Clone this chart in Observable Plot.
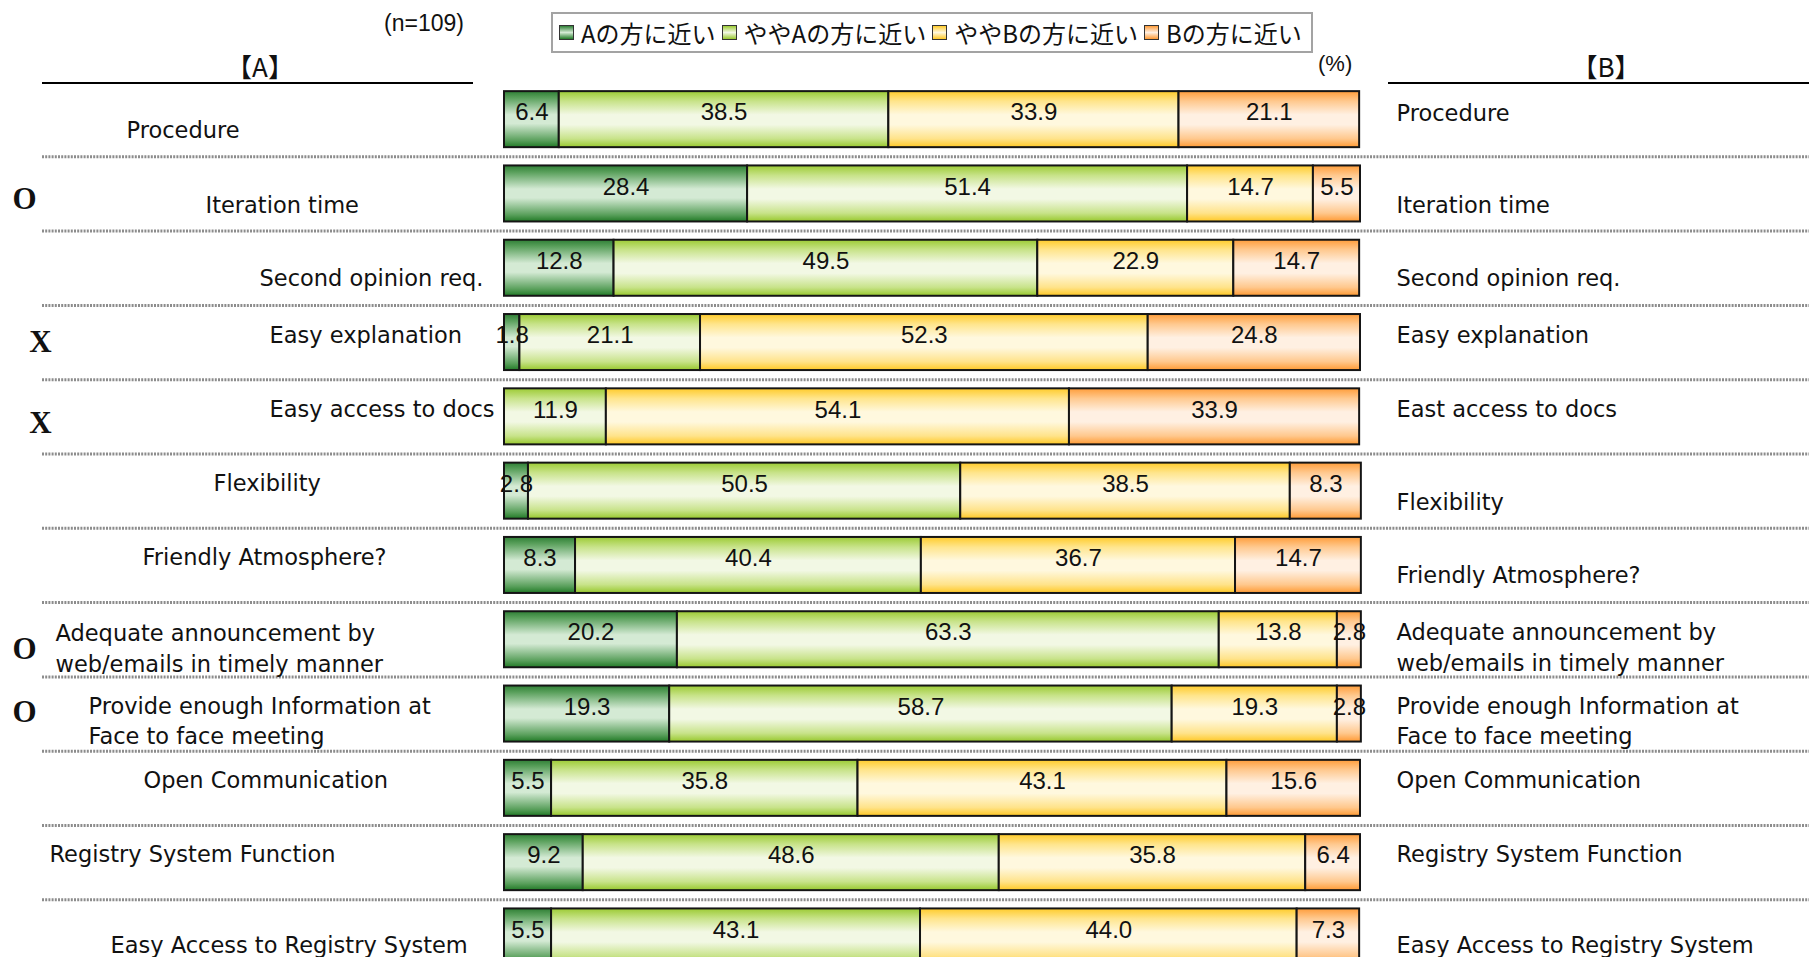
<!DOCTYPE html>
<html><head><meta charset="utf-8">
<script src="https://cdn.jsdelivr.net/npm/d3@7"></script>
<script src="https://cdn.jsdelivr.net/npm/@observablehq/plot@0.6"></script>
<style>
html,body{margin:0;padding:0;background:#fff;overflow:hidden;}
#wrap{position:relative;width:1809px;height:957px;overflow:hidden;}
#head{height:82px;}
.abs{position:absolute;white-space:nowrap;color:#111;}
.line{position:absolute;height:2px;background:#000;}
#legend{position:absolute;left:551px;top:12px;width:758px;height:37px;border:2px solid #a3a3a3;display:flex;align-items:center;box-sizing:content-box;font-family:"Noto Sans CJK JP";font-size:24px;color:#111;}
#legend .sw{width:13px;height:13px;border:1.5px solid #333;margin-right:7px;flex:none;}
#legend .it{display:flex;align-items:center;margin-left:6px;}
</style></head><body>
<svg width="0" height="0" style="position:absolute">
<defs>
<linearGradient id="g0" x1="0" y1="0" x2="0" y2="1">
<stop offset="0" stop-color="#2f7f35"/><stop offset="0.12" stop-color="#5aa05c"/><stop offset="0.42" stop-color="#d4ead4"/><stop offset="0.58" stop-color="#d4ead4"/><stop offset="0.88" stop-color="#5aa05c"/><stop offset="1" stop-color="#217a26"/>
</linearGradient>
<linearGradient id="g1" x1="0" y1="0" x2="0" y2="1">
<stop offset="0" stop-color="#9ccb34"/><stop offset="0.18" stop-color="#c8e38a"/><stop offset="0.42" stop-color="#f2f8e4"/><stop offset="0.6" stop-color="#f2f8e4"/><stop offset="0.85" stop-color="#c8e38a"/><stop offset="1" stop-color="#97c82c"/>
</linearGradient>
<linearGradient id="g2" x1="0" y1="0" x2="0" y2="1">
<stop offset="0" stop-color="#ffcb2a"/><stop offset="0.18" stop-color="#ffe58c"/><stop offset="0.42" stop-color="#fff8de"/><stop offset="0.6" stop-color="#fff8de"/><stop offset="0.85" stop-color="#ffe38a"/><stop offset="1" stop-color="#ffc824"/>
</linearGradient>
<linearGradient id="g3" x1="0" y1="0" x2="0" y2="1">
<stop offset="0" stop-color="#ff9d3a"/><stop offset="0.18" stop-color="#ffc98f"/><stop offset="0.42" stop-color="#fff0e2"/><stop offset="0.6" stop-color="#fff0e2"/><stop offset="0.85" stop-color="#ffc88d"/><stop offset="1" stop-color="#ff9a33"/>
</linearGradient>
</defs>
</svg>
<div id="wrap">
<div id="head"></div>
<div id="chart"></div>
<div class="abs" style="left:384px;top:9px;font-family:'Liberation Sans';font-size:23px;line-height:28px;">(n=109)</div>
<div id="legend"></div>
<div class="abs" style="left:1318px;top:51px;font-family:'Liberation Sans';font-size:22px;line-height:26px;">(%)</div>
<div class="abs" style="left:190px;width:140px;text-align:center;top:50px;font-family:'Noto Sans CJK JP';font-size:26px;line-height:32px;">【A】</div>
<div class="abs" style="left:1536px;width:140px;text-align:center;top:50px;font-family:'Noto Sans CJK JP';font-size:26px;line-height:32px;">【B】</div>
<div class="line" style="left:42px;top:82px;width:431px;"></div>
<div class="line" style="left:1388px;top:82px;width:421px;"></div>
</div>
<script>
// ---- data ----
const leftLabels = [
  "Procedure", "Iteration time", "Second opinion req.", "Easy explanation",
  "Easy access to docs", "Flexibility", "Friendly Atmosphere?",
  "Adequate announcement by\nweb/emails in timely manner",
  "Provide enough Information at\nFace to face meeting",
  "Open Communication", "Registry System Function", "Easy Access to Registry System"
];
const rightLabels = [
  "Procedure", "Iteration time", "Second opinion req.", "Easy explanation",
  "East access to docs", "Flexibility", "Friendly Atmosphere?",
  "Adequate announcement by\nweb/emails in timely manner",
  "Provide enough Information at\nFace to face meeting",
  "Open Communication", "Registry System Function", "Easy Access to Registry System"
];
const series = ["Aの方に近い", "ややAの方に近い", "ややBの方に近い", "Bの方に近い"];
const nearA   = [6.4, 28.4, 12.8, 1.8, 0, 2.8, 8.3, 20.2, 19.3, 5.5, 9.2, 5.5];
const slightA = [38.5, 51.4, 49.5, 21.1, 11.9, 50.5, 40.4, 63.3, 58.7, 35.8, 48.6, 43.1];
const slightB = [33.9, 14.7, 22.9, 52.3, 54.1, 38.5, 36.7, 13.8, 19.3, 43.1, 35.8, 44.0];
const nearB   = [21.1, 5.5, 14.7, 24.8, 33.9, 8.3, 14.7, 2.8, 2.8, 15.6, 6.4, 7.3];
const verdicts = ["", "O", "", "X", "X", "", "", "O", "O", "", "", ""];

// ---- layout (pixel offsets for free-placed labels) ----
const leftDx  = [84, 163, 217, 227, 227, 171, 100, 13, 46, 101, 7, 68];
const leftDy  = [9, 9, 8, -9, -10, -10, -10, 7, 5, -10, -10, 6];
const rightDy = [-8, 9, 8, -9, -10, 9, 8, 6, 5, -10, -10, 6];
const verdictDx = {O: -18, X: -2};
const verdictDy = [0, 5, 0, 0, 6, 0, 0, 9, -2, 0, 0, 0];

const values = [nearA, slightA, slightB, nearB];
const items = leftLabels;
const long = [];
series.forEach((s, j) => items.forEach((k, i) => long.push({item: k, series: s, value: values[j][i]})));
const fills = series.map((s, j) => `url(#g${j})`);

const yRange = [0, 891.6];
const step = (yRange[1] - yRange[0]) / items.length;
const labelFont = "'DejaVu Sans', 'Noto Sans', sans-serif";

const marks = [
  Plot.ruleY(items.slice(0, -1), {y: d => d, dy: step / 2, stroke: "#8c8c8c", strokeWidth: 3, strokeDasharray: "2,1.2"}),
  Plot.barX(long, {x: "value", y: "item", z: "series", fill: "series", order: series, stroke: "#151515", strokeWidth: 2}),
  Plot.text(long, Plot.stackX({x: "value", y: "item", z: "series", order: series,
    text: d => d.value > 0 ? d.value.toFixed(1) : null, dy: -7, fontSize: 24,
    fontFamily: "'Liberation Sans', Arial, sans-serif", fill: "#111"}))
];
items.forEach((k, i) => {
  marks.push(Plot.text([k], {y: d => d, text: [leftLabels[i]], frameAnchor: "left", textAnchor: "start",
    dx: leftDx[i], dy: leftDy[i], fontSize: 22.5, lineHeight: 1.35, fontFamily: labelFont, fill: "#111"}));
  marks.push(Plot.text([k], {y: d => d, text: [rightLabels[i]], frameAnchor: "left", textAnchor: "start",
    dx: 1354, dy: rightDy[i], fontSize: 22.5, lineHeight: 1.35, fontFamily: labelFont, fill: "#111"}));
  if (verdicts[i]) {
    marks.push(Plot.text([k], {y: d => d, text: [verdicts[i]], frameAnchor: "left", textAnchor: "middle",
      dx: verdictDx[verdicts[i]], dy: verdictDy[i], fontSize: 31, fontWeight: "bold",
      fontFamily: "'Liberation Serif', 'Times New Roman', serif", fill: "#111"}));
  }
});

const chart = Plot.plot({
  width: 1809, height: 875,
  marginLeft: 42, marginRight: 0, marginTop: 0, marginBottom: 0,
  x: {domain: [0, 100], range: [504, 1360], axis: null},
  y: {domain: items, range: yRange, paddingInner: 0.246, paddingOuter: 0.123, round: false, axis: null},
  color: {domain: series, range: fills},
  style: {background: "transparent", overflow: "hidden"},
  marks
});
document.getElementById("chart").appendChild(chart);

// legend
const leg = d3.select("#legend");
series.forEach((s, j) => {
  const it = leg.append("div").attr("class", "it");
  it.append("div").attr("class", "sw").style("background",
    ["linear-gradient(#2f7f35,#d4ead4,#217a26)", "linear-gradient(#9ccb34,#f2f8e4,#97c82c)",
     "linear-gradient(#ffcb2a,#fff8de,#ffc824)", "linear-gradient(#ff9d3a,#fff0e2,#ff9a33)"][j]);
  it.append("span").text(s);
});
</script>
</body></html>
